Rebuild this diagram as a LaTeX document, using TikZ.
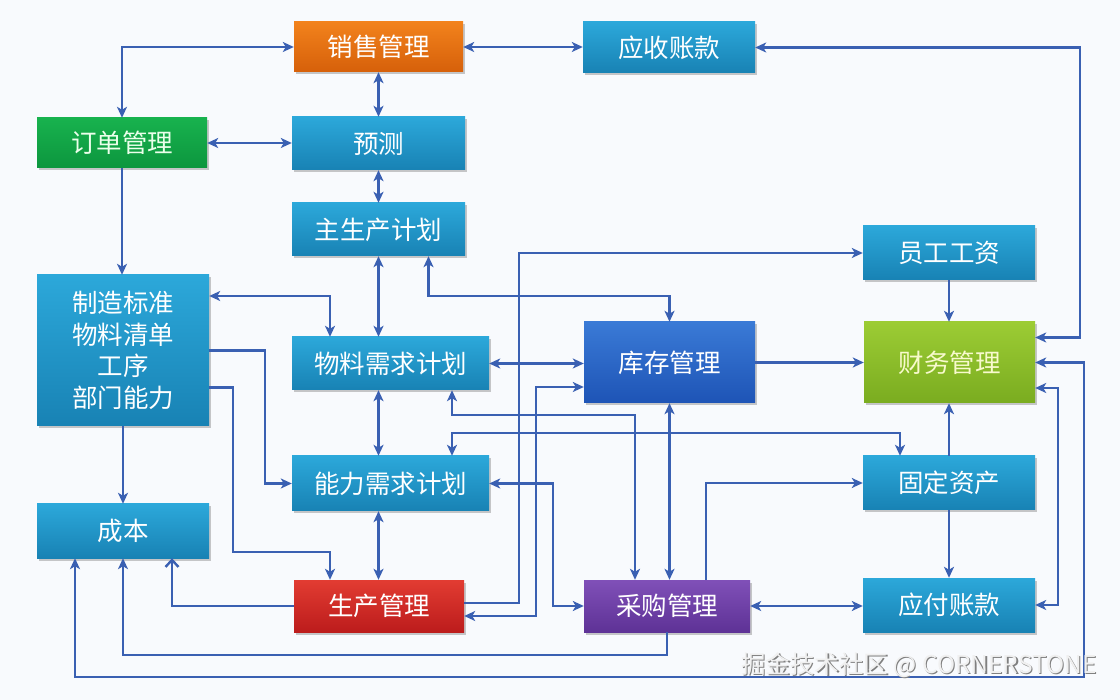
\documentclass[tikz,border=0pt]{standalone}
\usepackage{fontspec}
\newfontfamily\cjk{Noto Sans CJK SC}
\usetikzlibrary{arrows.meta,shadows,calc}
\definecolor{ln}{RGB}{58,96,178}
\definecolor{bgc}{RGB}{248,250,253}
\definecolor{bl1}{RGB}{44,168,218}
\definecolor{bl2}{RGB}{24,130,180}
\definecolor{or1}{RGB}{242,130,28}
\definecolor{or2}{RGB}{214,96,10}
\definecolor{gr1}{RGB}{24,178,78}
\definecolor{gr2}{RGB}{12,150,62}
\definecolor{db1}{RGB}{58,122,214}
\definecolor{db2}{RGB}{30,84,182}
\definecolor{yg1}{RGB}{156,204,52}
\definecolor{yg2}{RGB}{122,172,32}
\definecolor{rd1}{RGB}{226,60,50}
\definecolor{rd2}{RGB}{188,28,28}
\definecolor{pu1}{RGB}{128,80,184}
\definecolor{pu2}{RGB}{94,50,150}
\tikzset{
  bx/.style={rectangle, inner sep=0pt, align=center, text=white,
    font=\cjk\fontsize{25.5}{31.5}\selectfont,
    top color=bl1, bottom color=bl2,
    drop shadow={shadow xshift=1.5pt,shadow yshift=-2.5pt,opacity=0.3,fill=black!70}},
  orangebox/.style={top color=or1, bottom color=or2},
  greenbox/.style={top color=gr1, bottom color=gr2, text={rgb,255:red,235;green,255;blue,235}},
  darkbox/.style={top color=db1, bottom color=db2},
  limebox/.style={top color=yg1, bottom color=yg2, text={rgb,255:red,248;green,250;blue,205}},
  redbox/.style={top color=rd1, bottom color=rd2},
  purplebox/.style={top color=pu1, bottom color=pu2},
  conn/.style={draw=ln, line width=2.6pt, line join=miter},
  arr/.style={conn, -{Stealth[length=11pt,width=10pt,inset=3pt]}},
  dbl/.style={conn, {Stealth[length=11pt,width=10pt,inset=3pt]}-{Stealth[length=11pt,width=10pt,inset=3pt]}},
  barb/.style={conn, -{Straight Barb[length=7pt,width=13pt,line width=2.4pt]}}
}
\begin{document}
\begin{tikzpicture}[x=1pt,y=-1pt]
\useasboundingbox (0,0) rectangle (1120,700);
\fill[bgc] (0,0) rectangle (1120,700);

% nodes
\node[bx,orangebox,minimum width=169pt,minimum height=50pt] (xs) at (378.5,47) {销售管理};
\node[bx,minimum width=172pt,minimum height=51pt] (ys) at (669,47.5) {应收账款};
\node[bx,greenbox,minimum width=170pt,minimum height=50pt] (dd) at (122,143) {订单管理};
\node[bx,minimum width=173pt,minimum height=53pt] (yc) at (378.5,143.5) {预测};
\node[bx,minimum width=173pt,minimum height=53pt] (zsc) at (378.5,229.5) {主生产计划};
\node[bx,minimum width=172pt,minimum height=54pt] (yg) at (949,253) {员工工资};
\node[bx,minimum width=172pt,minimum height=151pt] (zz) at (123,350.5) {制造标准\\物料清单\\工序\\部门能力};
\node[bx,minimum width=197pt,minimum height=53pt] (wl) at (390.5,363.5) {物料需求计划};
\node[bx,darkbox,minimum width=171pt,minimum height=81pt] (kc) at (669.5,362.5) {库存管理};
\node[bx,limebox,minimum width=171pt,minimum height=81pt] (cw) at (949.5,362.5) {财务管理};
\node[bx,minimum width=197pt,minimum height=55pt] (nl) at (390.5,483.5) {能力需求计划};
\node[bx,minimum width=172pt,minimum height=54pt] (gd) at (949,483) {固定资产};
\node[bx,minimum width=172pt,minimum height=54pt] (cb) at (123,531) {成本};
\node[bx,redbox,minimum width=170pt,minimum height=52pt] (sc) at (379,606) {生产管理};
\node[bx,purplebox,minimum width=166pt,minimum height=52pt] (cg) at (667,606) {采购管理};
\node[bx,minimum width=172pt,minimum height=54pt] (yf) at (949,605) {应付账款};

% bend coordinates
\coordinate (rA) at (1080,0);
\coordinate (rB) at (1084,0);
\coordinate (rC) at (1058,0);
\coordinate (c265) at (265,0);
\coordinate (c233) at (233,0);
\coordinate (c519) at (519,0);
\coordinate (c536) at (536,0);
\coordinate (c553) at (553,0);
\coordinate (m296) at (0,296);
\coordinate (m415) at (0,415);
\coordinate (m433) at (0,433);
\coordinate (m552) at (0,552);
\coordinate (m655) at (0,655);
\coordinate (m677) at (0,677);
\coordinate (cwa) at ([yshift=25pt]cw.east);
\coordinate (cwc) at ([yshift=-25.5pt]cw.east);

% connectors
\draw[dbl] (xs.east) -- (xs.east -| ys.west);
\draw[dbl] (ys.east) -- (ys.east -| rA) -- (rA |- cwa) -- (cwa);
\draw[dbl] (dd.north) |- (xs.west);
\draw[dbl] (xs.south) -- (yc.north);
\draw[dbl] (dd.east) -- (dd.east -| yc.west);
\draw[dbl] (yc.south) -- (zsc.north);
\draw[arr] (dd.south) -- (dd.south |- zz.north);
\draw[arr] (zz.south) -- (cb.north);
\draw[dbl] (zsc.south) -- (zsc.south |- wl.north);
\draw[dbl] ([xshift=50pt]zsc.south) -- ([xshift=50pt]zsc.south |- m296) -| (kc.north);
\draw[dbl] ([xshift=-60.5pt]wl.north) |- ([yshift=54.5pt]zz.east);
\draw[arr] (zz.east) -- (zz.east -| c265) |- (nl.west);
\draw[arr] ([yshift=-37pt]zz.east) -- ([yshift=-37pt]zz.east -| c233) -- (c233 |- m552) -| ([xshift=-49pt]sc.north);
\draw[dbl] (wl.east) -- (wl.east -| kc.west);
\draw[dbl] ([xshift=-12pt]wl.south) -- ([xshift=-12pt]nl.north);
\draw[dbl] ([xshift=-12pt]nl.south) -- ([xshift=-12pt]nl.south |- sc.north);
\draw[barb] (sc.west) -| ([xshift=49pt]cb.south);
\draw[arr] (cg.south) -- (cg.south |- m655) -| (cb.south);
\draw[dbl] (cw.east) -- (cw.east -| rB) -- (rB |- m677) -| ([xshift=-48pt]cb.south);
\draw[dbl] (yf.east) -- (yf.east -| rC) -- (rC |- cwc) -- (cwc);
\draw[arr] (yg.south) -- (yg.south |- cw.north);
\draw[arr] (kc.east) -- (kc.east -| cw.west);
\draw[arr] (gd.north) -- (gd.north |- cw.south);
\draw[arr] (gd.south) -- (gd.south |- yf.north);
\draw[dbl] (cg.east) -- (cg.east -| yf.west);
\draw[arr] ([xshift=39pt]cg.north) |- (gd.west);
\draw[dbl] (kc.south) -- (kc.south |- cg.north);
\draw[dbl] ([xshift=61.5pt]nl.north) -- ([xshift=61.5pt]nl.north |- m433) -| ([xshift=-49pt]gd.north);
\draw[dbl] ([xshift=61.5pt]wl.south) -- ([xshift=61.5pt]wl.south |- m415) -| ([xshift=-32pt]cg.north);
\draw[dbl] (nl.east) -- (nl.east -| c553) |- (cg.west);
\draw[arr] ([yshift=3pt]sc.east) -- ([yshift=3pt]sc.east -| c519) |- (yg.west);
\draw[dbl] ([yshift=-10pt]sc.east) -- ([yshift=-10pt]sc.east -| c536) |- ([yshift=-24.5pt]kc.west);

% watermark
\node[font=\cjk\fontsize{24.5}{28}\selectfont, text=black!50, anchor=east] (wms) at (1101.5,666.5) {掘金技术社区 @ CORNERSTONE};
\node[font=\cjk\fontsize{24.5}{28}\selectfont, text=black!6, anchor=east] (wm) at (1100,665) {掘金技术社区 @ CORNERSTONE};
\end{tikzpicture}
\end{document}
